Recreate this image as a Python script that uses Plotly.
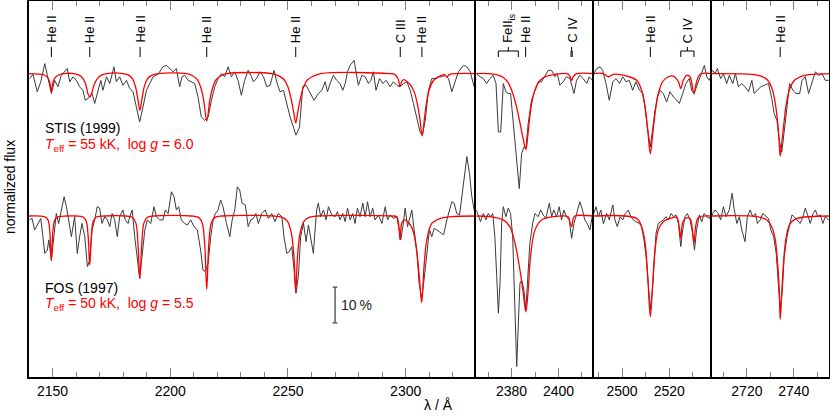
import plotly.graph_objects as go

# ---------------- data ----------------
panel_ranges = [(2140, 2330), (2365, 2415), (2488, 2538), (2705, 2755)]
panel_major = [[2150, 2200, 2250, 2300], [2380, 2400], [2500, 2520], [2720, 2740]]
stis_offset = 0.4

# observed STIS (1999) spectrum: (wavelength, normalized flux)
stis_obs = [
    (2140.3,0.986),(2141.7,0.998),(2143.5,0.949),(2145.0,0.977),(2146.7,1.028),(2147.8,0.991),(2149.5,0.944),(2150.9,0.981),
    (2152.3,0.963),(2153.7,0.995),(2155.4,1.009),(2156.3,1.014),(2157.3,0.977),(2158.7,0.991),(2160.1,0.981),(2161.5,0.963),
    (2162.9,0.953),(2163.9,0.925),(2165.1,0.930),(2166.8,0.944),(2167.9,0.916),(2169.3,0.953),(2170.5,0.981),(2171.4,0.953),
    (2172.9,0.991),(2174.3,0.972),(2176.1,1.019),(2177.1,0.977),(2178.5,0.991),(2179.9,0.967),(2181.4,0.981),(2182.8,0.958),
    (2184.2,0.949),(2185.6,0.906),(2187.0,0.864),(2188.4,0.906),(2189.9,0.953),(2191.3,0.972),(2192.7,0.991),(2194.8,0.998),
    (2196.9,1.019),(2198.4,1.023),(2199.8,1.014),(2201.2,1.005),(2202.6,1.014),(2204.0,0.963),(2205.0,0.991),(2206.1,0.995),
    (2207.6,0.981),(2209.0,0.977),(2210.4,0.972),(2211.8,0.934),(2213.2,0.878),(2214.6,0.869),(2216.1,0.878),(2217.5,0.925),
    (2218.9,0.963),(2220.3,0.986),(2221.7,1.000),(2223.1,0.991),(2224.6,1.019),(2226.0,0.991),(2227.4,1.005),(2228.8,0.981),
    (2230.2,0.939),(2231.6,0.981),(2233.1,1.009),(2234.5,0.991),(2235.3,0.977),(2236.7,0.986),(2238.1,1.005),(2239.6,0.991),
    (2241.0,0.963),(2242.4,0.967),(2244.1,1.009),(2245.2,0.977),(2246.6,0.949),(2248.1,0.953),(2249.5,0.916),(2250.9,0.878),
    (2252.3,0.850),(2253.4,0.827),(2254.9,0.850),(2256.3,0.963),(2257.7,0.967),(2259.4,0.944),(2261.1,0.925),(2262.9,0.944),
    (2264.4,0.953),(2265.8,0.977),(2266.8,0.949),(2267.9,0.972),(2269.3,0.995),(2270.7,0.981),(2272.1,0.972),(2273.3,0.953),
    (2274.3,0.972),(2275.3,1.005),(2276.4,1.023),(2278.1,1.037),(2278.9,1.005),(2279.9,0.967),(2281.4,0.995),(2282.8,0.991),
    (2284.2,0.972),(2285.2,0.981),(2286.3,1.005),(2287.4,0.953),(2288.9,0.986),(2290.3,0.972),(2291.7,0.981),(2293.4,0.963),
    (2294.8,0.977),(2296.2,0.967),(2297.6,0.963),(2299.1,0.972),(2300.5,0.977),(2301.9,0.953),(2303.3,0.916),(2304.7,0.878),
    (2306.1,0.836),(2307.1,0.827),(2308.3,0.869),(2309.7,0.953),(2311.1,0.986),(2312.5,0.986),(2313.9,0.991),(2315.3,0.991),
    (2316.8,0.995),(2318.2,0.986),(2319.6,0.949),(2321.0,0.977),(2322.4,1.005),(2324.6,1.023),(2326.0,1.019),(2327.4,1.005),
    (2329.1,0.963),(2330.0,0.986),
    (2365.0,1.000),(2366.6,0.991),(2368.0,0.986),(2369.4,0.972),(2370.8,0.986),(2372.2,0.995),(2373.4,0.972),(2374.4,0.836),
    (2375.4,0.836),(2376.5,0.972),(2377.6,0.949),(2378.6,0.944),(2379.6,0.944),(2380.7,0.860),(2382.2,0.766),(2383.3,0.677),
    (2384.3,0.775),(2385.3,0.794),(2386.1,0.789),(2387.1,0.860),(2388.5,0.925),(2390.0,0.953),(2391.4,0.977),(2392.8,0.977),
    (2394.2,0.995),(2395.6,1.009),(2397.1,1.009),(2398.5,0.991),(2399.5,1.000),(2400.6,0.967),(2402.0,0.977),(2403.4,0.991),
    (2404.9,0.986),(2406.6,0.944),(2407.7,0.981),(2409.1,0.995),(2410.5,0.986),(2412.0,0.972),(2413.1,0.991),(2414.5,0.981),
    (2415.0,0.990),
    (2488.0,1.000),(2489.3,1.014),(2490.7,1.019),(2491.8,1.009),(2493.2,0.972),(2494.6,0.925),(2496.1,0.977),(2497.5,0.986),
    (2498.9,0.972),(2500.3,0.991),(2501.7,0.977),(2503.1,0.981),(2504.5,0.953),(2505.9,0.977),(2507.4,0.953),(2508.8,0.944),
    (2509.8,0.902),(2510.7,0.850),(2512.0,0.794),(2513.0,0.850),(2514.0,0.897),(2515.0,0.934),(2516.1,0.953),(2517.5,0.944),
    (2518.9,0.920),(2520.3,0.949),(2521.8,0.934),(2523.2,0.925),(2524.3,0.916),(2525.7,0.944),(2527.1,0.972),(2528.5,0.986),
    (2529.5,0.953),(2530.5,0.944),(2531.6,0.963),(2532.8,0.981),(2533.9,1.000),(2534.9,1.023),(2535.9,0.991),(2537.0,0.981),
    (2538.0,1.000),
    (2705.0,1.005),(2705.4,1.009),(2706.4,1.000),(2707.4,1.014),(2708.8,0.986),(2710.0,1.000),(2711.4,0.972),(2712.5,0.995),
    (2714.0,0.972),(2715.1,1.000),(2716.4,0.963),(2717.8,0.972),(2719.2,0.963),(2720.7,0.949),(2722.1,0.981),(2723.1,0.944),
    (2724.5,0.953),(2725.9,0.963),(2727.4,0.967),(2729.2,0.972),(2730.6,0.930),(2731.6,0.888),(2732.8,0.869),(2733.9,0.808),
    (2734.9,0.780),(2735.9,0.831),(2737.1,0.906),(2738.2,0.972),(2739.6,0.953),(2741.0,0.944),(2742.5,0.944),(2743.5,0.981),
    (2744.9,0.991),(2746.3,0.944),(2747.7,0.977),(2749.2,1.005),(2750.6,0.995),(2752.0,1.000),(2753.4,0.981),(2754.9,0.981),
]

# observed FOS (1997) spectrum
fos_obs = [
    (2140.3,0.989),(2141.3,0.993),(2142.4,0.961),(2143.8,0.979),(2145.0,0.993),(2145.9,0.942),(2146.7,0.895),(2147.8,0.904),
    (2148.4,0.933),(2149.5,0.876),(2150.6,0.942),(2151.6,1.007),(2152.6,0.979),(2153.7,1.017),(2154.9,1.054),(2155.9,1.026),
    (2156.9,0.979),(2158.0,0.942),(2159.4,0.998),(2160.5,0.895),(2161.5,0.942),(2162.5,0.979),(2163.7,0.942),(2164.8,0.858),
    (2165.8,0.876),(2166.8,0.961),(2167.9,0.989),(2169.0,1.026),(2170.0,1.022),(2171.0,0.979),(2172.2,0.998),(2173.3,0.989),
    (2174.3,0.970),(2175.3,1.007),(2176.4,0.989),(2177.5,0.942),(2178.5,0.998),(2179.9,1.017),(2180.9,0.989),(2182.1,0.979),
    (2182.8,0.998),(2183.8,1.017),(2184.9,0.942),(2186.0,0.876),(2187.0,0.825),(2188.0,0.886),(2189.2,0.961),(2190.3,0.989),
    (2191.7,0.979),(2193.1,1.026),(2194.1,0.998),(2195.5,0.989),(2196.9,0.989),(2197.9,1.017),(2199.1,1.007),(2200.5,1.068),
    (2201.6,1.054),(2202.6,1.017),(2203.6,1.026),(2204.7,0.989),(2206.1,0.979),(2207.3,0.975),(2208.7,0.989),(2210.1,0.970),
    (2211.5,0.961),(2212.9,0.904),(2213.9,0.848),(2214.9,0.844),(2216.1,0.867),(2217.2,0.942),(2218.2,0.989),(2219.2,1.007),
    (2220.3,1.017),(2221.4,1.045),(2222.4,1.026),(2223.9,0.979),(2225.3,0.942),(2226.3,0.989),(2227.4,1.017),(2228.5,1.082),
    (2229.5,1.073),(2230.5,1.036),(2231.9,1.031),(2233.1,0.970),(2234.2,0.989),(2235.3,0.993),(2236.4,1.007),(2237.4,0.979),
    (2238.9,1.007),(2240.3,1.017),(2241.7,0.993),(2243.1,1.007),(2244.5,0.984),(2245.9,1.007),(2247.4,0.998),(2248.3,0.942),
    (2249.5,0.895),(2250.6,0.900),(2251.6,0.914),(2252.6,0.848),(2253.4,0.783),(2254.4,0.830),(2255.4,0.942),(2256.6,0.979),
    (2257.7,0.928),(2258.7,0.975),(2259.7,0.933),(2260.8,0.895),(2261.5,0.961),(2262.2,1.017),(2262.9,1.036),(2263.9,0.998),
    (2265.1,1.017),(2266.2,0.989),(2267.2,1.026),(2268.6,1.003),(2270.0,0.998),(2271.0,1.012),(2272.1,0.989),(2273.3,1.007),
    (2274.3,0.984),(2275.3,1.022),(2276.4,0.989),(2277.5,1.007),(2278.5,0.979),(2279.5,1.022),(2280.6,0.998),(2281.8,1.036),
    (2282.8,0.998),(2283.8,1.040),(2284.9,0.998),(2286.0,1.022),(2287.0,0.989),(2288.4,1.003),(2289.9,0.979),(2291.3,1.026),
    (2292.3,0.989),(2293.4,1.003),(2294.8,0.993),(2296.2,0.998),(2297.4,0.956),(2297.9,0.933),(2298.8,0.970),(2299.8,1.022),
    (2300.8,0.970),(2301.6,0.989),(2302.6,1.017),(2303.6,0.961),(2304.7,0.904),(2305.7,0.811),(2306.8,0.769),(2307.8,0.820),
    (2309.0,0.904),(2310.1,0.961),(2311.1,0.942),(2312.1,0.965),(2313.2,0.961),(2314.4,0.956),(2315.3,0.951),(2316.1,0.947),
    (2317.5,0.989),(2318.6,1.017),(2319.6,1.040),(2320.6,1.036),(2321.7,1.007),(2322.9,1.003),(2323.8,1.054),(2324.8,1.110),
    (2326.0,1.167),(2327.1,1.120),(2328.1,1.054),(2329.1,1.017),(2329.9,0.989),
    (2365.0,1.017),(2365.9,1.003),(2366.8,0.984),(2368.0,1.007),(2369.1,0.989),(2370.1,1.007),(2371.1,0.998),(2372.0,1.007),
    (2372.9,0.942),(2373.7,0.830),(2374.4,0.727),(2375.1,0.811),(2375.8,0.979),(2376.5,1.026),(2377.6,0.998),(2378.6,1.022),
    (2379.6,1.007),(2380.5,0.942),(2381.5,0.717),(2382.2,0.577),(2382.9,0.699),(2383.6,0.811),(2384.3,0.820),(2385.3,0.792),
    (2386.1,0.736),(2387.1,0.858),(2387.8,0.923),(2389.0,0.979),(2390.0,1.007),(2391.4,0.998),(2392.4,1.017),(2393.5,1.003),
    (2394.6,0.993),(2396.1,1.036),(2397.1,0.998),(2398.0,1.017),(2399.2,0.998),(2400.3,1.026),(2401.3,0.989),(2402.3,1.017),
    (2403.4,0.998),(2404.6,0.989),(2405.6,0.937),(2406.6,0.979),(2407.7,1.007),(2409.1,1.040),(2410.2,1.017),(2411.2,0.989),
    (2412.2,0.979),(2413.4,0.961),(2414.5,1.003),(2415.0,0.990),
    (2488.0,1.007),(2489.0,1.026),(2490.0,0.998),(2491.0,1.017),(2492.1,0.979),(2493.5,1.007),(2494.6,0.989),(2496.1,1.031),
    (2497.0,0.989),(2498.0,0.970),(2499.2,0.998),(2500.3,0.989),(2501.4,1.007),(2502.7,1.017),(2503.7,0.998),(2504.8,0.989),
    (2505.9,0.984),(2507.4,0.979),(2508.3,0.970),(2509.3,0.933),(2510.2,0.886),(2511.2,0.811),(2512.0,0.736),(2512.9,0.792),
    (2513.6,0.886),(2514.4,0.951),(2515.4,0.979),(2516.4,0.984),(2517.5,0.989),(2518.6,0.998),(2519.6,0.989),(2520.8,1.007),
    (2521.8,0.998),(2522.9,1.003),(2523.9,0.979),(2524.9,0.914),(2525.7,0.961),(2526.7,0.998),(2527.7,1.007),(2528.8,0.989),
    (2529.8,0.956),(2530.7,0.904),(2531.6,0.961),(2532.8,1.003),(2533.8,0.984),(2534.8,1.007),(2535.9,0.998),(2537.0,0.993),
    (2538.0,1.005),
    (2705.0,1.000),(2705.4,1.007),(2706.4,1.017),(2707.8,1.007),(2708.8,0.989),(2710.0,1.026),(2711.1,0.998),(2712.5,1.017),
    (2713.7,1.064),(2714.5,1.022),(2715.7,0.979),(2716.8,0.998),(2717.8,0.961),(2719.2,0.928),(2720.2,0.998),(2721.4,1.017),
    (2722.5,0.998),(2723.7,1.007),(2724.5,0.979),(2725.7,0.989),(2726.8,1.007),(2728.2,0.998),(2729.2,0.993),(2730.2,0.961),
    (2731.4,0.942),(2732.5,0.895),(2733.5,0.811),(2734.2,0.736),(2735.1,0.792),(2735.9,0.886),(2737.1,0.942),(2738.2,0.979),
    (2739.2,1.003),(2740.2,0.998),(2741.3,0.989),(2742.7,0.979),(2743.9,0.998),(2744.9,1.022),(2745.9,1.003),(2747.0,0.979),
    (2748.2,1.007),(2749.2,1.017),(2750.2,0.998),(2751.3,1.003),(2752.4,0.979),(2753.4,0.998),(2754.9,0.989),
]

# model spectrum Teff = 55 kK, log g = 6.0 (compared with STIS)
stis_model = [
    (2140.0,1.000),(2146.5,0.996),(2148.0,0.988),(2148.8,0.976),(2149.5,0.951),(2150.2,0.976),(2151.0,0.988),(2152.5,0.996),
    (2155.0,1.000),(2159.0,1.000),(2161.5,0.995),(2163.0,0.985),(2164.2,0.968),(2165.0,0.944),(2165.8,0.934),(2166.6,0.944),
    (2167.6,0.968),(2169.0,0.985),(2170.5,0.995),(2173.0,1.000),(2180.0,1.000),(2182.5,0.995),(2184.0,0.985),(2185.2,0.964),
    (2186.2,0.930),(2187.1,0.897),(2188.0,0.930),(2189.0,0.964),(2190.3,0.985),(2192.0,0.995),(2195.0,1.000),(2207.0,1.000),
    (2209.5,0.994),(2211.5,0.983),(2213.0,0.960),(2214.2,0.925),(2215.5,0.867),(2216.8,0.925),(2218.0,0.960),(2219.5,0.983),
    (2221.5,0.994),(2224.0,1.000),(2243.0,1.000),(2246.5,0.992),(2248.5,0.982),(2250.0,0.962),(2251.3,0.930),(2252.4,0.893),
    (2253.3,0.862),(2254.2,0.893),(2255.3,0.930),(2256.6,0.962),(2258.2,0.982),(2260.5,0.992),(2264.0,1.000),(2293.0,1.000),
    (2295.5,0.997),(2296.8,0.985),(2297.6,0.964),(2298.5,0.980),(2299.3,0.983),(2300.5,0.978),(2302.0,0.968),(2303.5,0.950),
    (2304.8,0.920),(2306.0,0.875),(2307.0,0.825),(2308.0,0.875),(2309.0,0.925),(2310.3,0.960),(2312.0,0.982),(2314.5,0.993),
    (2316.5,0.997),(2317.5,0.990),(2318.5,0.997),(2322.0,1.000),(2330.0,1.000),
    (2365.0,1.000),(2370.0,1.000),(2374.0,0.996),(2376.5,0.989),(2378.5,0.975),(2380.5,0.945),(2382.0,0.910),(2383.5,0.865),
    (2385.0,0.815),(2386.1,0.787),(2387.0,0.830),(2388.3,0.905),(2389.8,0.950),(2391.5,0.975),(2394.0,0.990),(2398.0,0.997),
    (2404.0,0.999),(2405.0,0.990),(2405.6,0.981),(2406.2,0.990),(2407.5,0.999),(2415.0,1.000),
    (2488.0,1.000),(2492.1,1.000),(2494.2,0.991),(2496.3,0.998),(2502.0,0.993),(2506.2,0.981),(2508.3,0.953),(2509.8,0.906),
    (2510.9,0.841),(2512.0,0.775),(2513.0,0.831),(2514.0,0.888),(2515.4,0.944),(2517.2,0.977),(2519.6,0.991),(2521.8,0.993),
    (2523.9,0.977),(2524.9,0.958),(2526.0,0.981),(2527.4,0.995),(2528.8,0.991),(2530.5,0.944),(2531.6,0.977),(2533.1,0.998),
    (2538.0,1.000),
    (2705.0,1.000),(2722.0,0.998),(2726.0,0.993),(2728.8,0.982),(2730.6,0.960),(2731.9,0.925),(2733.0,0.870),(2733.7,0.815),
    (2734.2,0.768),(2734.8,0.800),(2735.7,0.855),(2736.8,0.915),(2738.3,0.958),(2740.4,0.982),(2743.5,0.993),(2748.4,0.998),
    (2755.0,1.000),
]

# model spectrum Teff = 50 kK, log g = 5.5 (compared with FOS)
fos_model = [
    (2140.0,1.000),(2146.5,0.998),(2148.0,0.990),(2148.8,0.960),(2149.5,0.875),(2150.2,0.960),(2151.0,0.990),(2152.5,0.998),
    (2156.0,1.000),(2160.0,1.000),(2163.0,0.997),(2164.3,0.985),(2165.1,0.945),(2165.8,0.862),(2166.5,0.945),(2167.3,0.985),
    (2168.6,0.997),(2172.0,1.000),(2181.0,1.000),(2184.0,0.996),(2185.4,0.980),(2186.3,0.920),(2187.1,0.825),(2187.9,0.920),
    (2188.8,0.980),(2190.2,0.996),(2193.0,1.000),(2209.0,1.000),(2212.0,0.996),(2213.5,0.982),(2214.6,0.925),(2215.5,0.794),
    (2216.4,0.925),(2217.5,0.982),(2219.0,0.996),(2222.0,1.000),(2244.0,1.000),(2247.5,0.996),(2249.8,0.985),(2251.5,0.950),
    (2252.6,0.880),(2253.3,0.785),(2254.0,0.880),(2255.1,0.950),(2256.8,0.985),(2259.0,0.996),(2263.0,1.000),(2294.0,1.000),
    (2296.2,0.998),(2297.1,0.970),(2297.6,0.933),(2298.3,0.979),(2299.3,0.989),(2300.5,0.986),(2302.0,0.975),(2303.3,0.955),
    (2304.7,0.900),(2305.8,0.830),(2306.8,0.757),(2307.8,0.858),(2309.0,0.933),(2311.1,0.979),(2314.6,0.993),(2318.9,0.998),
    (2330.0,1.000),
    (2365.0,1.000),(2370.8,0.998),(2376.5,0.989),(2379.3,0.970),(2381.5,0.923),(2383.6,0.848),(2385.0,0.783),(2386.1,0.731),
    (2387.1,0.792),(2388.1,0.886),(2390.0,0.961),(2392.8,0.989),(2397.8,0.998),(2404.1,0.998),(2404.8,0.984),(2405.6,0.970),
    (2406.3,0.993),(2407.0,1.000),(2415.0,1.000),
    (2488.0,1.000),(2506.2,0.993),(2508.3,0.970),(2509.8,0.923),(2510.9,0.830),(2512.0,0.717),(2513.0,0.811),(2514.0,0.904),
    (2515.4,0.961),(2517.5,0.984),(2520.3,0.993),(2523.2,0.996),(2524.2,0.970),(2524.9,0.937),(2525.6,0.979),(2526.7,0.993),
    (2528.8,0.993),(2529.8,0.961),(2530.5,0.923),(2531.2,0.970),(2532.4,0.996),(2538.0,1.000),
    (2705.0,1.000),(2724.2,0.998),(2728.5,0.989),(2730.6,0.970),(2732.1,0.933),(2733.1,0.867),(2733.8,0.792),(2734.2,0.710),
    (2734.8,0.773),(2735.6,0.867),(2736.8,0.942),(2738.5,0.979),(2741.3,0.993),(2755.0,1.000),
]

# line identifications: (label, wavelength, panel)
line_ids = [("He II", 2149.5, 1), ("He II", 2165.8, 1), ("He II", 2187.2, 1), ("He II", 2215.5, 1),
            ("He II", 2253.3, 1), ("C III", 2297.7, 1), ("He II", 2306.9, 1), ("He II", 2386.0, 2),
            ("He II", 2512.0, 3), ("He II", 2734.2, 4)]
# bracketed identifications: (label, wavelength start, wavelength end, panel)
bracket_ids = [("FeII<sub>is</sub>", 2374.4, 2382.9, 2), ("C IV", 2405.35, 2405.85, 2), ("C IV", 2524.9, 2530.5, 3)]

# ---------------- layout geometry ----------------
W, H = 830, 418
ML, MR, MT, MB = 29, 1, 1, 41
PW, PH = W - ML - MR, H - MT - MB
edges_px = [29, 476.3, 593.7, 711.7, 829]
domains = [((edges_px[i] - ML) / PW, (edges_px[i + 1] - ML) / PW) for i in range(4)]
y_range = [0.5478, 1.6038]


def py2paper(py):
    return (MT + PH - py) / PH


FONT = "Liberation Sans, Arial, Helvetica, sans-serif"
GRAY = "#3a3a3a"
RED = "#ff0000"

fig = go.Figure()


def add_series(pairs, offset, color, width, panel, shape="linear"):
    lo, hi = panel_ranges[panel]
    pts = [(w, f) for (w, f) in pairs if lo <= w <= hi]
    xs = [p[0] for p in pts]
    ys = [p[1] + offset for p in pts]
    ax = "" if panel == 0 else str(panel + 1)
    fig.add_trace(go.Scatter(x=xs, y=ys, mode="lines", line=dict(color=color, width=width, shape=shape),
                             xaxis="x" + ax, yaxis="y" + ax, showlegend=False, hoverinfo="skip"))


for p in range(4):
    add_series(stis_obs, stis_offset, GRAY, 1, p)
    add_series(stis_model, stis_offset, RED, 1.3, p, "spline")
    add_series(fos_obs, 0.0, GRAY, 1, p)
    add_series(fos_model, 0.0, RED, 1.3, p, "spline")

layout = dict(width=W, height=H, margin=dict(l=ML, r=MR, t=MT, b=MB, autoexpand=False),
              paper_bgcolor="white", plot_bgcolor="white",
              font=dict(family=FONT, color="black", size=14), showlegend=False)

for p in range(4):
    suf = "" if p == 0 else str(p + 1)
    lo, hi = panel_ranges[p]
    layout["xaxis" + suf] = dict(
        domain=list(domains[p]), range=[lo, hi], anchor="y" + suf,
        tickmode="array", tickvals=panel_major[p], ticks="inside", ticklen=9, tickwidth=1, tickcolor="#808080",
        minor=dict(ticks="inside", ticklen=5, tickwidth=1, tickcolor="#808080", dtick=10, tick0=2140),
        showline=True, linecolor="black", linewidth=1.5, mirror="ticks",
        showgrid=False, zeroline=False, tickfont=dict(size=14, family=FONT, color="black"))
    layout["yaxis" + suf] = dict(
        domain=[0, 1], range=y_range, anchor="x" + suf, showticklabels=False, ticks="",
        showline=True, linecolor="black", linewidth=1.5, mirror=(p == 3), showgrid=False, zeroline=False)

fig.update_layout(**layout)

shapes = []
annotations = []


def xref(panel):
    return "x" if panel == 1 else "x%d" % panel


y_tick_lo, y_tick_hi = py2paper(57), py2paper(47)
y_br = py2paper(51)
y_text = py2paper(45)

for label, wl, panel in line_ids:
    shapes.append(dict(type="line", xref=xref(panel), yref="paper", x0=wl, x1=wl, y0=y_tick_lo, y1=y_tick_hi,
                       line=dict(color="black", width=1)))
    annotations.append(dict(text=label, x=wl, y=y_text, xref=xref(panel), yref="paper", textangle=-90,
                            xanchor="center", yanchor="bottom", showarrow=False,
                            font=dict(size=13, family=FONT, color="black")))

for label, w1, w2, panel in bracket_ids:
    xr = xref(panel)
    wc = 0.5 * (w1 + w2)
    for (xa, ya, xb, yb) in [(w1, y_br, w2, y_br), (w1, y_br, w1, y_tick_lo), (w2, y_br, w2, y_tick_lo),
                             (wc, y_br, wc, y_tick_hi)]:
        shapes.append(dict(type="line", xref=xr, yref="paper", x0=xa, x1=xb, y0=ya, y1=yb,
                           line=dict(color="black", width=1)))
    annotations.append(dict(text=label, x=wc, y=y_text, xref=xr, yref="paper", textangle=-90,
                            xanchor="center", yanchor="bottom", showarrow=False,
                            font=dict(size=13, family=FONT, color="black")))

# 10 % scale bar
bar_x, bar_lo, bar_hi = 2270, 0.70, 0.80
for (xa, ya, xb, yb) in [(bar_x, bar_lo, bar_x, bar_hi), (bar_x - 1, bar_lo, bar_x + 1, bar_lo),
                         (bar_x - 1, bar_hi, bar_x + 1, bar_hi)]:
    shapes.append(dict(type="line", xref="x", yref="y", x0=xa, x1=xb, y0=ya, y1=yb,
                       line=dict(color="#444444", width=1.3)))
annotations.append(dict(text="10\u2009%", x=bar_x + 1.8, y=0.5 * (bar_lo + bar_hi), xref="x", yref="y",
                        xanchor="left", yanchor="middle", showarrow=False,
                        font=dict(size=14, family=FONT, color="#222222")))

# spectrum labels
lab_x = (43 - ML) / PW
annotations += [
    dict(text="STIS (1999)", x=lab_x, y=py2paper(128), xref="paper", yref="paper", xanchor="left",
         yanchor="middle", showarrow=False, font=dict(size=14, family=FONT, color="black")),
    dict(text="<i>T</i><sub>eff</sub> = 55 kK,\u00a0\u00a0log <i>g</i> = 6.0", x=lab_x, y=py2paper(145),
         xref="paper", yref="paper", xanchor="left", yanchor="middle", showarrow=False,
         font=dict(size=14, family=FONT, color=RED)),
    dict(text="FOS (1997)", x=lab_x, y=py2paper(288), xref="paper", yref="paper", xanchor="left",
         yanchor="middle", showarrow=False, font=dict(size=14, family=FONT, color="black")),
    dict(text="<i>T</i><sub>eff</sub> = 50 kK,\u00a0\u00a0log <i>g</i> = 5.5", x=lab_x, y=py2paper(304),
         xref="paper", yref="paper", xanchor="left", yanchor="middle", showarrow=False,
         font=dict(size=14, family=FONT, color=RED)),
    dict(text="normalized flux", x=(10 - ML) / PW, y=py2paper(187), xref="paper", yref="paper",
         textangle=-90, xanchor="center", yanchor="middle", showarrow=False,
         font=dict(size=14, family=FONT, color="black")),
    dict(text="\u03bb / \u00c5", x=(438 - ML) / PW, y=py2paper(405), xref="paper", yref="paper",
         xanchor="center", yanchor="middle", showarrow=False,
         font=dict(size=14, family=FONT, color="black")),
]

fig.update_layout(shapes=shapes, annotations=annotations)
fig.write_html("out.html", config={"displayModeBar": False},
               post_script="document.body.style.margin='0px';")
